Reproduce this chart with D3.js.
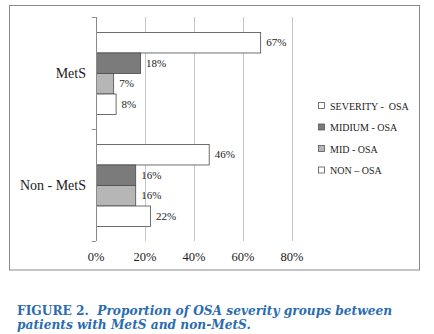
<!DOCTYPE html>
<html>
<head>
<meta charset="utf-8">
<script src="https://cdn.jsdelivr.net/npm/d3@7"></script>
<style>
  body { margin: 0; background: #fff; }
  svg text { font-family: "Liberation Serif", "Times New Roman", serif; fill: #222; }
</style>
</head>
<body>
<svg id="chart"></svg>
<script>
const categories = ["MetS", "Non - MetS"];
const series = ["SEVERITY -  OSA", "MIDIUM - OSA", "MID - OSA", "NON \u2013 OSA"];
const seriesColors = ["#ffffff", "#7b7b7b", "#b6b6b6", "#ffffff"];
// values per category, in series order
const metsValues = [0.67, 0.18, 0.07, 0.08];
const nonMetsValues = [0.46, 0.16, 0.16, 0.22];
const xTicks = [0, 0.2, 0.4, 0.6, 0.8];

const W = 434, H = 334;
const svg = d3.select("#chart").attr("width", W).attr("height", H);

svg.append("rect").attr("width", W).attr("height", H).attr("fill", "#fff");

// outer frame
svg.append("rect")
  .attr("x", 9.5).attr("y", 5.5)
  .attr("width", 410).attr("height", 264.5)
  .attr("fill", "none").attr("stroke", "#8a8a8a").attr("stroke-width", 1);

const plot = {left: 96, right: 292, top: 17, bottom: 241};

const x = d3.scaleLinear().domain([0, 0.8]).range([plot.left, plot.right]);
const y = d3.scaleBand().domain(categories).range([plot.top, plot.bottom]);
const yInner = d3.scaleBand().domain(series).range([0, y.bandwidth()])
  .paddingInner(0).paddingOuter(0.73);

const rows = categories.map((c, i) => ({
  cat: c,
  values: (i === 0 ? metsValues : nonMetsValues).map((v, j) => ({series: series[j], color: seriesColors[j], value: v}))
}));

// vertical gridlines
svg.append("g").selectAll("line")
  .data(xTicks.slice(1))
  .join("line")
  .attr("x1", d => x(d) + 0.5).attr("x2", d => x(d) + 0.5)
  .attr("y1", plot.top).attr("y2", plot.bottom)
  .attr("stroke", "#c6c6c6").attr("stroke-width", 1);

// x tick labels
svg.append("g").selectAll("text")
  .data(xTicks)
  .join("text")
  .attr("x", d => x(d))
  .attr("y", 261)
  .attr("text-anchor", "middle")
  .style("font-size", "12.5px")
  .text(d3.format(".0%"));

// bars
const groups = svg.append("g").selectAll("g")
  .data(rows)
  .join("g")
  .attr("transform", d => `translate(0,${y(d.cat)})`);

groups.selectAll("rect")
  .data(d => d.values)
  .join("rect")
  .attr("x", x(0) + 0.5)
  .attr("y", d => yInner(d.series) + 0.5)
  .attr("width", d => x(d.value) - x(0))
  .attr("height", yInner.bandwidth())
  .attr("fill", d => d.color)
  .attr("stroke", "#4a4a4a")
  .attr("stroke-width", 0.8);

groups.selectAll("text.val")
  .data(d => d.values)
  .join("text")
  .attr("class", "val")
  .attr("x", d => x(d.value) + 6)
  .attr("y", d => yInner(d.series) + yInner.bandwidth() / 2)
  .attr("dy", "0.35em")
  .style("font-size", "11px")
  .text(d => d3.format(".0%")(d.value));

// y axis line and ticks
svg.append("line")
  .attr("x1", plot.left + 0.5).attr("x2", plot.left + 0.5)
  .attr("y1", plot.top).attr("y2", plot.bottom)
  .attr("stroke", "#8a8a8a");
svg.append("g").selectAll("line")
  .data([plot.top, plot.top + y.bandwidth(), plot.bottom])
  .join("line")
  .attr("x1", plot.left - 4).attr("x2", plot.left)
  .attr("y1", d => d + 0.5).attr("y2", d => d + 0.5)
  .attr("stroke", "#8a8a8a");

// category labels
svg.append("g").selectAll("text")
  .data(categories)
  .join("text")
  .attr("x", 86)
  .attr("y", d => y(d) + y.bandwidth() / 2)
  .attr("dy", "0.35em")
  .attr("text-anchor", "end")
  .style("font-size", "14px")
  .text(d => d);

// legend
const legend = svg.append("g").selectAll("g")
  .data(series)
  .join("g")
  .attr("transform", (d, i) => `translate(318,${106 + i * 21.5})`);
legend.append("rect")
  .attr("x", 0.5).attr("y", -3.5)
  .attr("width", 6).attr("height", 6)
  .attr("fill", (d, i) => seriesColors[i])
  .attr("stroke", "#555").attr("stroke-width", 0.8);
legend.append("text")
  .attr("x", 12)
  .attr("dy", "0.35em")
  .style("font-size", "10px")
  .style("white-space", "pre")
  .text(d => d);

// caption
const cap = svg.append("text")
  .attr("x", 17).attr("y", 315)
  .style("font-family", "'DejaVu Serif', serif")
  .style("font-size", "12.2px")
  .style("font-weight", "bold")
  .style("fill", "#2a6cb0")
  .style("white-space", "pre");
cap.append("tspan").text("FIGURE 2.  ");
cap.append("tspan").style("font-style", "italic").text("Proportion of OSA severity groups between");
svg.append("text")
  .attr("x", 17).attr("y", 329)
  .style("font-family", "'DejaVu Serif', serif")
  .style("font-size", "12.2px")
  .style("font-weight", "bold")
  .style("font-style", "italic")
  .style("fill", "#2a6cb0")
  .text("patients with MetS and non-MetS.");
</script>
</body>
</html>
